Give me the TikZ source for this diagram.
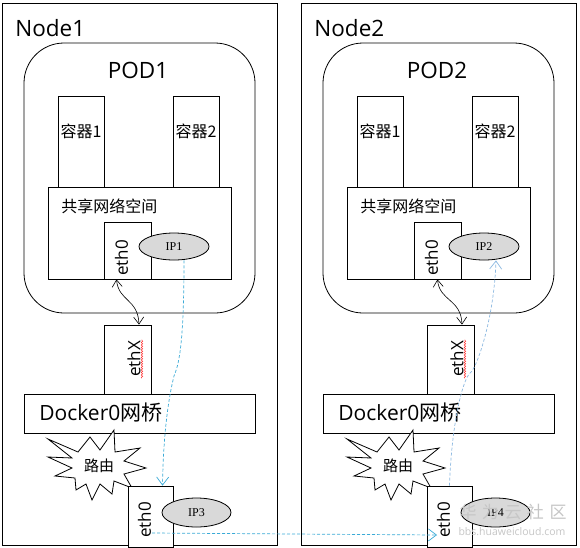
\documentclass[tikz,border=0pt]{standalone}
\usepackage{fontspec}
\usetikzlibrary{positioning,shapes.geometric,arrows.meta,decorations.pathmorphing}
\setmainfont{Open Sans}
\newfontfamily\cjk{Noto Sans CJK SC}
\newfontfamily\ipfont{Liberation Serif}
\definecolor{flowA}{RGB}{58,170,215}
\definecolor{flowB}{RGB}{140,185,225}

\begin{document}
\begin{tikzpicture}[x=1pt, y=-1pt, line width=0.8pt,
  box/.style={draw, fill=white, inner sep=0pt},
  big/.style={font=\fontsize{21}{24}\selectfont, inner sep=0pt},
  title/.style={font=\fontsize{22.5}{25}\selectfont, inner sep=0pt},
  cn/.style={font=\cjk\fontsize{16}{18}\selectfont, inner sep=0pt},
  eth/.style={rotate=90, font=\fontsize{17}{19}\selectfont, inner sep=1pt},
  ip/.style={draw, ellipse, fill=gray!30, minimum width=70pt, minimum height=27pt, inner sep=0pt, font=\ipfont\fontsize{12}{13}\selectfont},
  link/.style={semithick, {Straight Barb[length=7pt,width=10pt]}-{Straight Barb[length=7pt,width=10pt]}},
  flow/.style={densely dashed, line width=0.7pt, -{Straight Barb[length=8pt,width=12pt]}}]
\useasboundingbox (0,0) rectangle (580,547);

\foreach \i/\dx/\ea/\ex/\ws/\j in {1/0/0/0/-11/3, 2/299/11/24/0/4} {
\begin{scope}[xshift=\dx pt]
  % node and pod
  \node[box, minimum width=275pt, minimum height=542pt] (nd\i) at (139.5,274) {};
  \node[title, anchor=west] (ndt\i) at (15,28) {Node\i};
  \node[box, rounded corners=40pt, minimum width=231pt, minimum height=270pt] (pod\i) at (139.5,178) {};
  \node[title] (podt\i) at (138,70) {POD\i};
  % containers
  \node[box, minimum width=46pt, minimum height=91pt] (ca\i) at (81,141.5) {};
  \node[box, minimum width=46pt, minimum height=91pt] (cb\i) at (196,141.5) {};
  \node[cn] (cat\i) at (81,131) {容器1};
  \node[cn] (cbt\i) at (196,131) {容器2};
  \node[box, minimum width=183pt, minimum height=92pt] (sh\i) at (139.5,233) {};
  \node[cn, anchor=west] (sht\i) at (61,206) {共享网络空间};
  \node[box, minimum width=47pt, minimum height=57pt] (e0\i) at ({127.5+\ea},250.5) {};
  \node[eth] (e0t\i) at ({121.5+\ea},258) {eth0};
  \node[ip] (ip\i) at ({174+\ea},246.5) {IP\i};
  % host side
  \node[box, minimum width=47pt, minimum height=69pt] (ex\i) at ({127.5+\ex},359.5) {};
  \node[eth] (ext\i) at ({134+\ex},359) {ethX};
  \draw[red!80, line width=0.5pt, decorate, decoration={snake, amplitude=0.8pt, segment length=2.5pt}] (ext\i.south west) -- (ext\i.south east);
  \node[box, minimum width=231pt, minimum height=39pt] (dk\i) at (139.5,413.5) {};
  \node[big, anchor=west] (dkt\i) at (39,413) {Docker0{\cjk 网桥}};
  \draw[fill=white] (48,439) -- (78,452) -- (90,437) -- (100,450) -- (114,430) -- (115,452)
    -- (140,448) -- (124,461) -- (146,468) -- (124,474) -- (132,488) -- (114,481)
    -- (112,494) -- (100,484) -- (92,500) -- (86,484) -- (76,490) -- (75,478)
    -- (55,476) -- (72,468) -- (48,457) -- (72,458) -- cycle;
  \node[cn, font=\cjk\fontsize{15}{17}\selectfont] (rt\i) at (99,466) {路由};
  \node[box, minimum width=45pt, minimum height=61pt] (eb\i) at (150.5,516.5) {};
  \node[eth] (ebt\i) at (144.5,520) {eth0};
  \node[ip, minimum width=69pt, minimum height=29pt] (ipb\i) at (196.5,512.5) {IP\j};
  \draw[link] ([xshift=\ws pt]e0\i.south) .. controls +(2,22) and +(-1,-26) .. ([xshift=11.5pt]ex\i.north);
\end{scope}
}

% packet path
\coordinate (bend1) at (174,376);
\coordinate (bend2) at (470,373);
\draw[flow, flowA] ([xshift=10pt]ip1.south) .. controls +(0,90) and +(4,-10) .. (bend1)
  .. controls +(-4,16) and +(1,-60) .. ([xshift=12pt]eb1.north);
\draw[flow, flowA] ([xshift=1.5pt,yshift=-16.5pt]eb1.center) -- ([xshift=-12.5pt,yshift=-18.5pt]eb2.center);
\draw[flow, flowB] (eb2.north) .. controls +(2,-60) and +(-8,8) .. (bend2)
  .. controls +(6,-3) and +(-2,60) .. ([xshift=12pt]ip2.south);

% watermark
\node[text=gray!45, font=\cjk\fontsize{17}{19}\selectfont, inner sep=0pt] (wm) at (513,512) {华\hspace{5.5pt}为\hspace{5.5pt}云\hspace{5.5pt}社\hspace{5.5pt}区};
\node[text=gray!45, font=\fontsize{10.5}{12}\selectfont, inner sep=0pt] (wmu) at (512,532) {bbs.huaweicloud.com};
\end{tikzpicture}
\end{document}
